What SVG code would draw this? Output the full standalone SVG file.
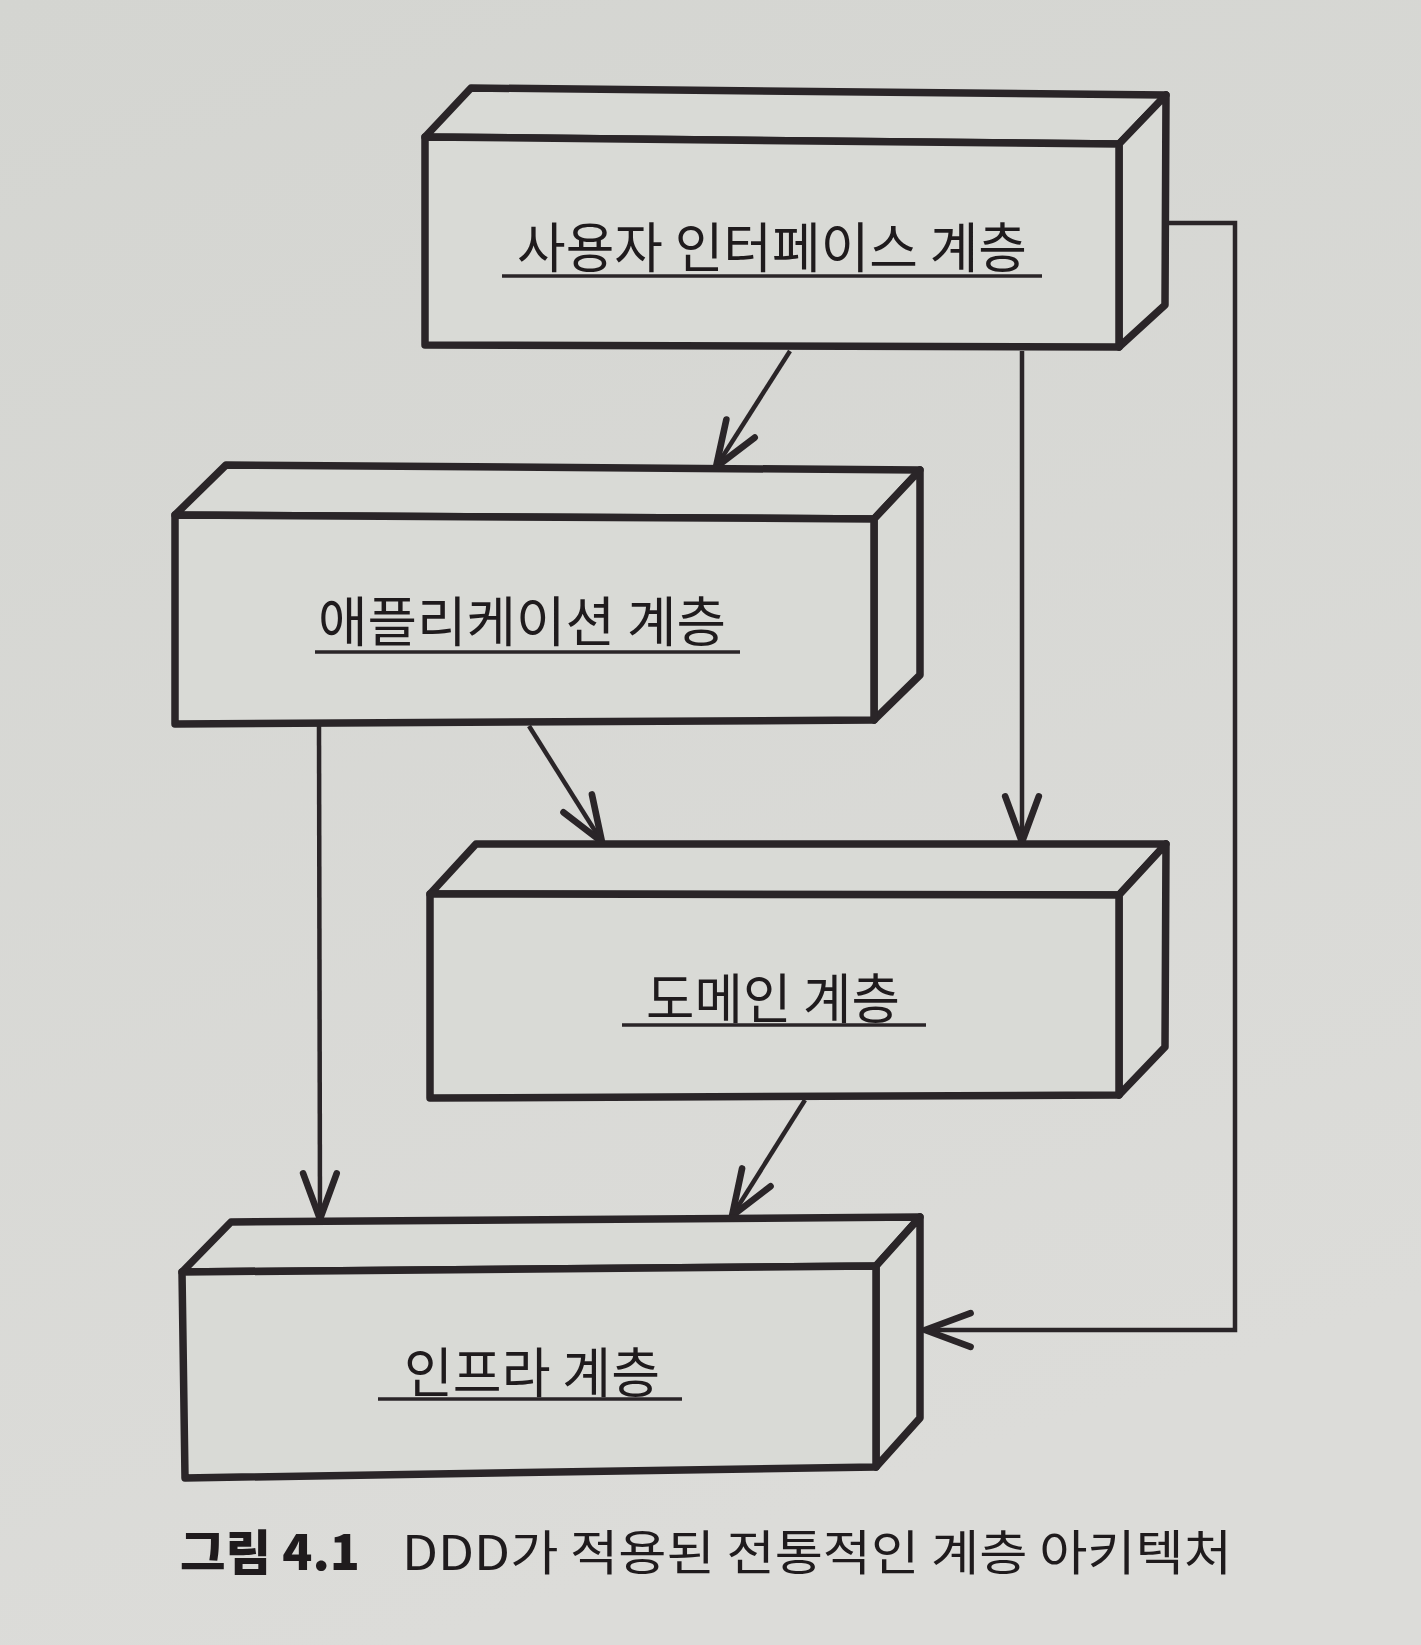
<svg xmlns="http://www.w3.org/2000/svg" width="1421" height="1645" viewBox="0 0 1421 1645">
  <defs>
    <linearGradient id="paper" x1="0" y1="0" x2="0.3" y2="1">
      <stop offset="0" stop-color="#d4d5d1"/>
      <stop offset="1" stop-color="#dcdcd9"/>
    </linearGradient>
    <marker id="arrow" markerUnits="userSpaceOnUse" markerWidth="60" markerHeight="60" viewBox="-45 -25 50 50" refX="0" refY="0" orient="auto">
      <path d="M -38 -14 L 0 0 L -38 14" fill="none" stroke="#2a2528" stroke-width="5.5" stroke-linecap="round" stroke-linejoin="round"/>
    </marker>
  </defs>
  <style>
    .face { fill: #d9dad6; stroke: #2a2528; stroke-width: 7.5; stroke-linejoin: round; }
    .label { font-family: "Noto Sans CJK KR", "Noto Sans", sans-serif; font-size: 54px; font-weight: 400; fill: #1f1b1d; }
    .uline { stroke: #2a2528; stroke-width: 3.5; }
    .conn { fill: none; stroke: #2a2528; stroke-width: 4.5; marker-end: url(#arrow); }
    .cap { font-family: "Noto Sans CJK KR", "Noto Sans", sans-serif; font-size: 48px; fill: #1f1b1d; }
  </style>
  <rect x="0" y="0" width="1421" height="1645" fill="url(#paper)"/>

  <g id="connectors">
    <line class="conn" x1="790" y1="351" x2="716" y2="467"/>
    <line class="conn" x1="1022" y1="351" x2="1022" y2="842"/>
    <line class="conn" x1="529" y1="726" x2="602" y2="842"/>
    <line class="conn" x1="319" y1="726" x2="320" y2="1219"/>
    <line class="conn" x1="805" y1="1100" x2="732" y2="1216"/>
    <polyline class="conn" points="1169,223 1235,223 1235,1330 925,1330"/>
  </g>

  <g id="ui-layer">
    <polygon class="face" points="425,137 471,88 1166,95 1119,144"/>
    <polygon class="face" points="1119,144 1166,95 1165,305 1119,347"/>
    <polygon class="face" points="425,137 1119,144 1119,347 425,345"/>
    <text class="label" x="517" y="268" textLength="510" lengthAdjust="spacingAndGlyphs">사용자 인터페이스 계층</text>
    <line class="uline" x1="502" y1="276" x2="1042" y2="276"/>
  </g>

  <g id="application-layer">
    <polygon class="face" points="175,515 226,465 920,470 874,519"/>
    <polygon class="face" points="874,519 920,470 920,675 874,720"/>
    <polygon class="face" points="175,515 874,519 874,720 175,724"/>
    <text class="label" x="318" y="642" textLength="408" lengthAdjust="spacingAndGlyphs">애플리케이션 계층</text>
    <line class="uline" x1="315" y1="652" x2="740" y2="652"/>
  </g>

  <g id="domain-layer">
    <polygon class="face" points="430,894 476,844 1166,844 1119,895"/>
    <polygon class="face" points="1119,895 1166,844 1165,1047 1119,1095"/>
    <polygon class="face" points="430,894 1119,895 1119,1095 430,1098"/>
    <text class="label" x="646" y="1019" textLength="254" lengthAdjust="spacingAndGlyphs">도메인 계층</text>
    <line class="uline" x1="622" y1="1025" x2="926" y2="1025"/>
  </g>

  <g id="infra-layer">
    <polygon class="face" points="182,1272 231,1222 920,1217 876,1266"/>
    <polygon class="face" points="876,1266 920,1217 920,1418 876,1467"/>
    <polygon class="face" points="182,1272 876,1266 876,1467 185,1478"/>
    <text class="label" x="404" y="1393" textLength="256" lengthAdjust="spacingAndGlyphs">인프라 계층</text>
    <line class="uline" x1="378" y1="1399" x2="682" y2="1399"/>
  </g>

  <g id="caption">
    <text class="cap" x="180" y="1570" font-weight="900" textLength="180" lengthAdjust="spacingAndGlyphs">그림 4.1</text>
    <text class="cap" x="402" y="1570" textLength="830" lengthAdjust="spacingAndGlyphs">DDD가 적용된 전통적인 계층 아키텍처</text>
  </g>
</svg>
